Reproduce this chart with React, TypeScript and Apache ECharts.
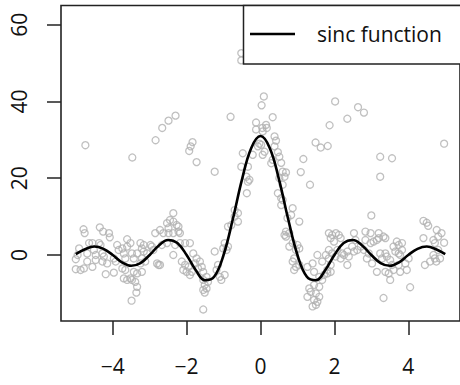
import React, { useEffect, useRef } from "react";
import * as echarts from "echarts";

const xTicks = [-4, -2, 0, 2, 4];
const yTicks = [0, 20, 40, 60];
const xRange = [-5.4, 5.4];
const yRange = [-17.2, 65];
const legendLabel = "sinc function";

const curveX = [
  -5, -4.75, -4.5, -4.25, -4, -3.75, -3.5, -3.25, -3, -2.75, -2.5, -2.25, -2,
  -1.75, -1.5, -1.25, -1, -0.75, -0.5, -0.25, 0, 0.25, 0.5, 0.75, 1, 1.25, 1.5,
  1.75, 2, 2.25, 2.5, 2.75, 3, 3.25, 3.5, 3.75, 4, 4.25, 4.5, 4.75, 5,
];
const curveY = [
  0.2, 1.5, 2.2, 1.6, 0, -1.9, -2.8, -2.1, 0, 2.5, 3.9, 3.1, 0, -4.0, -6.6,
  -5.6, 0, 9.3, 19.7, 27.9, 31.0, 27.9, 19.7, 9.3, 0, -5.6, -6.6, -4.0, 0, 3.1,
  3.9, 2.5, 0, -2.1, -2.8, -1.9, 0, 1.6, 2.2, 1.5, 0.2,
];

const points: [number, number][] = [
  [-4.74, 28.6], [-3.47, 25.4], [-2.84, 29.9], [-2.66, 33.1], [-2.49, 35.0],
  [-2.3, 36.3], [-1.93, 27.1], [-1.89, 28.3], [-1.84, 29.4], [-1.73, 24.2],
  [-1.24, 21.7], [-0.81, 36.0], [-0.52, 52.6], [-0.52, 50.7], [0.09, 41.3],
  [0.03, 39.0], [-0.12, 34.5], [-0.12, 32.7], [0.33, 35.9], [0.15, 33.9],
  [0.17, 33.1], [0.05, 33.1], [0.38, 30.9], [0.42, 29.8], [-0.03, 29.0],
  [-0.48, 26.5], [-0.07, 28.3], [-0.21, 26.1], [0.47, 26.8], [0.51, 25.6],
  [0.33, 24.8], [0.06, 26.1], [0.29, 23.9], [0.56, 24.0], [0.6, 21.7],
  [0.65, 20.4], [0.51, 20.0], [0.6, 18.3], [0.47, 16.1], [0.56, 14.8],
  [-0.52, 23.0], [-0.34, 23.0], [-0.38, 20.4], [-0.3, 19.6], [-0.34, 19.1],
  [-0.37, 16.1], [2.02, 40.0], [2.64, 38.5], [2.8, 37.1], [2.35, 35.5],
  [1.87, 33.8], [1.49, 29.3], [1.63, 28.0], [1.82, 28.4], [1.16, 25.0],
  [1.09, 21.6], [1.34, 18.3], [3.24, 25.6], [3.56, 25.2], [3.24, 20.4],
  [4.97, 29.0], [0.87, 12.2], [0.06, 32.2], [0.38, 28.3], [0.02, 28.7],
  [0.11, 26.9], [0.69, 21.5],
  [-0.7, 11.7], [-0.61, 10.9], [-0.61, 8.7], [-0.7, 10.0], [-0.88, 7.4],
  [-0.79, 7.8],
  [-4.79, 6.7], [-4.76, 5.7], [-4.35, 7.2], [-4.26, 6.1], [-4.1, 5.7],
  [-4.08, 4.6], [-4.91, 1.7], [-4.95, 0], [-5.0, -1.1], [-4.64, 3.1],
  [-4.55, 3.1], [-4.37, 3.1], [-4.33, 2.6], [-4.51, 1.3], [-4.69, 0.4],
  [-4.46, 0], [-4.28, 0.4], [-4.24, -0.4], [-4.69, -1.7], [-4.46, -1.3],
  [-4.28, -1.7], [-4.15, -2.2], [-5.0, -3.7], [-4.87, -3.9], [-4.78, -3.5],
  [-4.55, -3.1], [-4.19, -5.0], [-3.97, -4.6], [-3.88, 2.6], [-3.84, 1.3],
  [-3.74, 1.7], [-3.7, 0.4], [-3.61, 2.2], [-3.61, 4.1], [-3.52, 3.1],
  [-3.66, -0.9], [-3.97, -0.9], [-3.92, -1.7], [-3.74, -3.5], [-3.66, -3.9],
  [-3.7, -6.1], [-3.52, -6.1], [-3.61, -6.5], [-3.48, -6.5], [-3.39, -7.0],
  [-3.43, -4.4], [-3.34, -4.8], [-3.21, -4.4], [-3.34, -8.3], [-3.36, -9.8],
  [-3.49, -11.9], [-3.48, 0.4], [-3.43, -0.9], [-3.34, 0.4], [-3.25, 3.1],
  [-3.21, 1.7], [-3.16, 2.6], [-3.16, 0.9], [-3.07, 0.4], [-3.21, -0.9],
  [-3.12, -1.7], [-3.25, -2.2], [-2.98, 2.6], [-2.85, 5.7], [-2.94, 2.2],
  [-2.9, 1.3], [-2.8, -2.2], [-2.76, -2.6], [-2.72, 6.5],
  [-2.36, 10.9], [-2.45, 9.1], [-2.53, 8.3], [-2.36, 8.7], [-2.27, 7.8],
  [-2.49, 7.0], [-2.22, 7.4], [-2.63, 5.7], [-2.49, 5.7], [-2.36, 5.7],
  [-2.22, 6.1], [-2.18, 5.7], [-2.67, 2.6], [-2.53, 3.1], [-2.31, 2.6],
  [-2.18, 3.1], [-2.04, 3.1], [-1.91, 3.1], [-2.36, 0], [-2.72, -2.6],
  [-2.13, -1.7], [-2.04, -2.6], [-2.09, -3.9], [-1.95, -3.1], [-2.0, -4.4],
  [-1.82, 0.4], [-1.73, -0.9], [-1.77, -2.2], [-1.64, -1.7], [-1.59, -3.1],
  [-1.55, -4.4], [-1.69, -3.5], [-1.86, -4.4], [-1.91, -5.2], [-1.46, -5.7],
  [-1.55, -6.5], [-1.42, -7.0], [-1.51, -7.8], [-1.46, -8.7], [-1.55, -9.1],
  [-1.51, -9.8], [-1.55, -14.2], [-1.24, 0.9], [-1.15, -2.6], [-1.19, -3.9],
  [-1.1, -5.7], [-0.97, -5.2], [-1.06, -6.5], [-0.97, 3.1], [-1.01, 1.7],
  [-0.92, 1.3], [-0.88, 2.2],
  [0.6, 14.3], [0.56, 13.0], [0.83, 10.4], [0.73, 9.6], [1.05, 8.7],
  [0.69, 6.1], [0.65, 5.2], [0.69, 4.8], [0.78, 5.7], [0.87, 3.1],
  [1.0, 2.6], [0.96, 1.3], [1.05, 1.7], [0.78, 2.2], [0.91, -0.9],
  [0.87, -1.7], [0.96, -3.1], [1.05, -2.6], [0.91, -3.9], [1.27, -3.1],
  [1.41, -2.2], [1.45, -4.4], [1.54, 0], [1.67, -1.7], [1.77, 0],
  [1.85, -0.9], [1.59, -5.7], [1.72, -5.2], [1.67, -6.5], [1.81, -4.8],
  [1.9, -4.4], [1.32, -8.7], [1.45, -7.8], [1.59, -8.3], [1.36, -9.6],
  [1.27, -10.9], [1.5, -10.0], [1.59, -10.9], [1.54, -12.2], [1.45, -11.7],
  [1.5, -13.0], [1.41, -13.4], [1.85, 5.7], [1.94, 5.2], [1.9, 4.4],
  [2.04, 5.7], [2.12, 5.2], [2.17, 4.4], [1.99, 3.5], [1.85, 1.3],
  [1.94, 0.4], [2.08, 1.3], [2.03, -0.4], [1.9, -2.6], [1.81, -3.9],
  [2.21, 0.4], [2.26, 0], [2.17, -0.9], [2.35, 0.9], [2.39, -0.4],
  [2.35, -2.6], [2.53, 5.7], [2.57, 3.9], [2.48, 2.2], [2.53, 0.9],
  [2.62, 1.3],
  [3.0, 10.3], [2.84, 6.1], [2.98, 5.7], [3.2, 5.7], [3.33, 4.8],
  [3.38, 4.4], [3.2, 4.4], [2.84, 3.9], [2.98, 3.1], [3.06, 3.5],
  [3.15, 3.9], [2.71, 2.2], [2.8, 1.3], [2.93, 0.4], [2.88, -0.9],
  [3.02, -2.2], [3.24, 0.4], [3.38, 0.4], [3.29, -0.9], [3.42, -0.4],
  [3.51, -1.3], [3.56, -2.6], [3.15, -4.4], [3.38, -4.4], [3.47, -4.8],
  [3.6, -3.9], [3.51, -6.5], [3.69, 3.5], [3.74, 2.6], [3.83, 3.1],
  [3.6, 2.2], [3.65, 0.9], [3.74, 0.4], [3.83, 1.3], [3.78, 0],
  [3.74, -2.6], [3.92, -2.2], [4.01, -0.9], [3.96, -3.9], [3.78, -4.4],
  [4.05, -8.4], [3.33, -11.2], [4.41, 8.9], [4.5, 8.4], [4.54, 7.6],
  [4.77, 6.5], [4.9, 5.7], [4.81, 4.8], [4.97, 3.2], [4.72, 3.1],
  [4.68, 3.9], [4.41, 4.4], [4.81, 1.3], [4.68, 0], [4.72, -0.9],
  [4.86, -0.9], [4.59, -1.7], [4.45, -2.6], [4.76, -1.7],
];

const FONT = "'Open Sans', sans-serif";
const fmtNum = (v: number) => (v < 0 ? "\u2212" + Math.abs(v) : String(v));

export default function App() {
  const ref = useRef<HTMLDivElement>(null);
  useEffect(() => {
    if (!ref.current) return;
    const chart = echarts.init(ref.current, undefined, { renderer: "svg" });
    chart.setOption({
      animation: false,
      backgroundColor: "#fff",
      grid: {
        left: 61,
        top: 5.5,
        right: -2,
        bottom: 64,
        show: true,
        borderColor: "#222",
        borderWidth: 1.6,
        backgroundColor: "transparent",
      },
      xAxis: {
        type: "value",
        position: "bottom",
        min: xRange[0],
        max: xRange[1],
        axisLine: { show: false, onZero: false },
        splitLine: { show: false },
        axisTick: {
          show: true,
          length: 14,
          customValues: xTicks,
          lineStyle: { color: "#222", width: 1.5 },
        },
        axisLabel: {
          customValues: xTicks,
          formatter: fmtNum,
          margin: 34,
          fontFamily: FONT,
          fontSize: 21,
          color: "#111",
        },
      },
      yAxis: {
        type: "value",
        position: "left",
        min: yRange[0],
        max: yRange[1],
        axisLine: { show: false, onZero: false },
        splitLine: { show: false },
        axisTick: {
          show: true,
          length: 14,
          customValues: yTicks,
          lineStyle: { color: "#222", width: 1.5 },
        },
        axisLabel: {
          customValues: yTicks,
          formatter: fmtNum,
          rotate: 90,
          margin: 32,
          fontFamily: FONT,
          fontSize: 21,
          color: "#111",
        },
      },
      series: [
        {
          type: "scatter",
          data: points,
          symbol: "circle",
          symbolSize: 7,
          itemStyle: {
            color: "transparent",
            borderColor: "#b0b0b0",
            borderWidth: 1.3,
          },
          z: 2,
        },
        {
          type: "line",
          data: curveX.map((x, i) => [x, curveY[i]]),
          showSymbol: false,
          smooth: 0.4,
          lineStyle: { color: "#000", width: 2.6 },
          z: 3,
        },
      ],
      graphic: [
        {
          type: "rect",
          z: 10,
          shape: { x: 243.5, y: 5.5, width: 230, height: 58.5 },
          style: { fill: "#fff", stroke: "#222", lineWidth: 1.5 },
        },
        {
          type: "line",
          z: 11,
          shape: { x1: 250, y1: 34, x2: 295, y2: 34 },
          style: { stroke: "#000", lineWidth: 2.6 },
        },
        {
          type: "text",
          z: 11,
          x: 317,
          y: 34,
          style: {
            text: legendLabel,
            fontFamily: FONT,
            fontSize: 21,
            fill: "#111",
            verticalAlign: "middle",
          },
        },
      ],
    });
    return () => chart.dispose();
  }, []);
  return (
    <div
      ref={ref}
      style={{ position: "fixed", left: 0, top: 0, width: 460, height: 385 }}
    />
  );
}
